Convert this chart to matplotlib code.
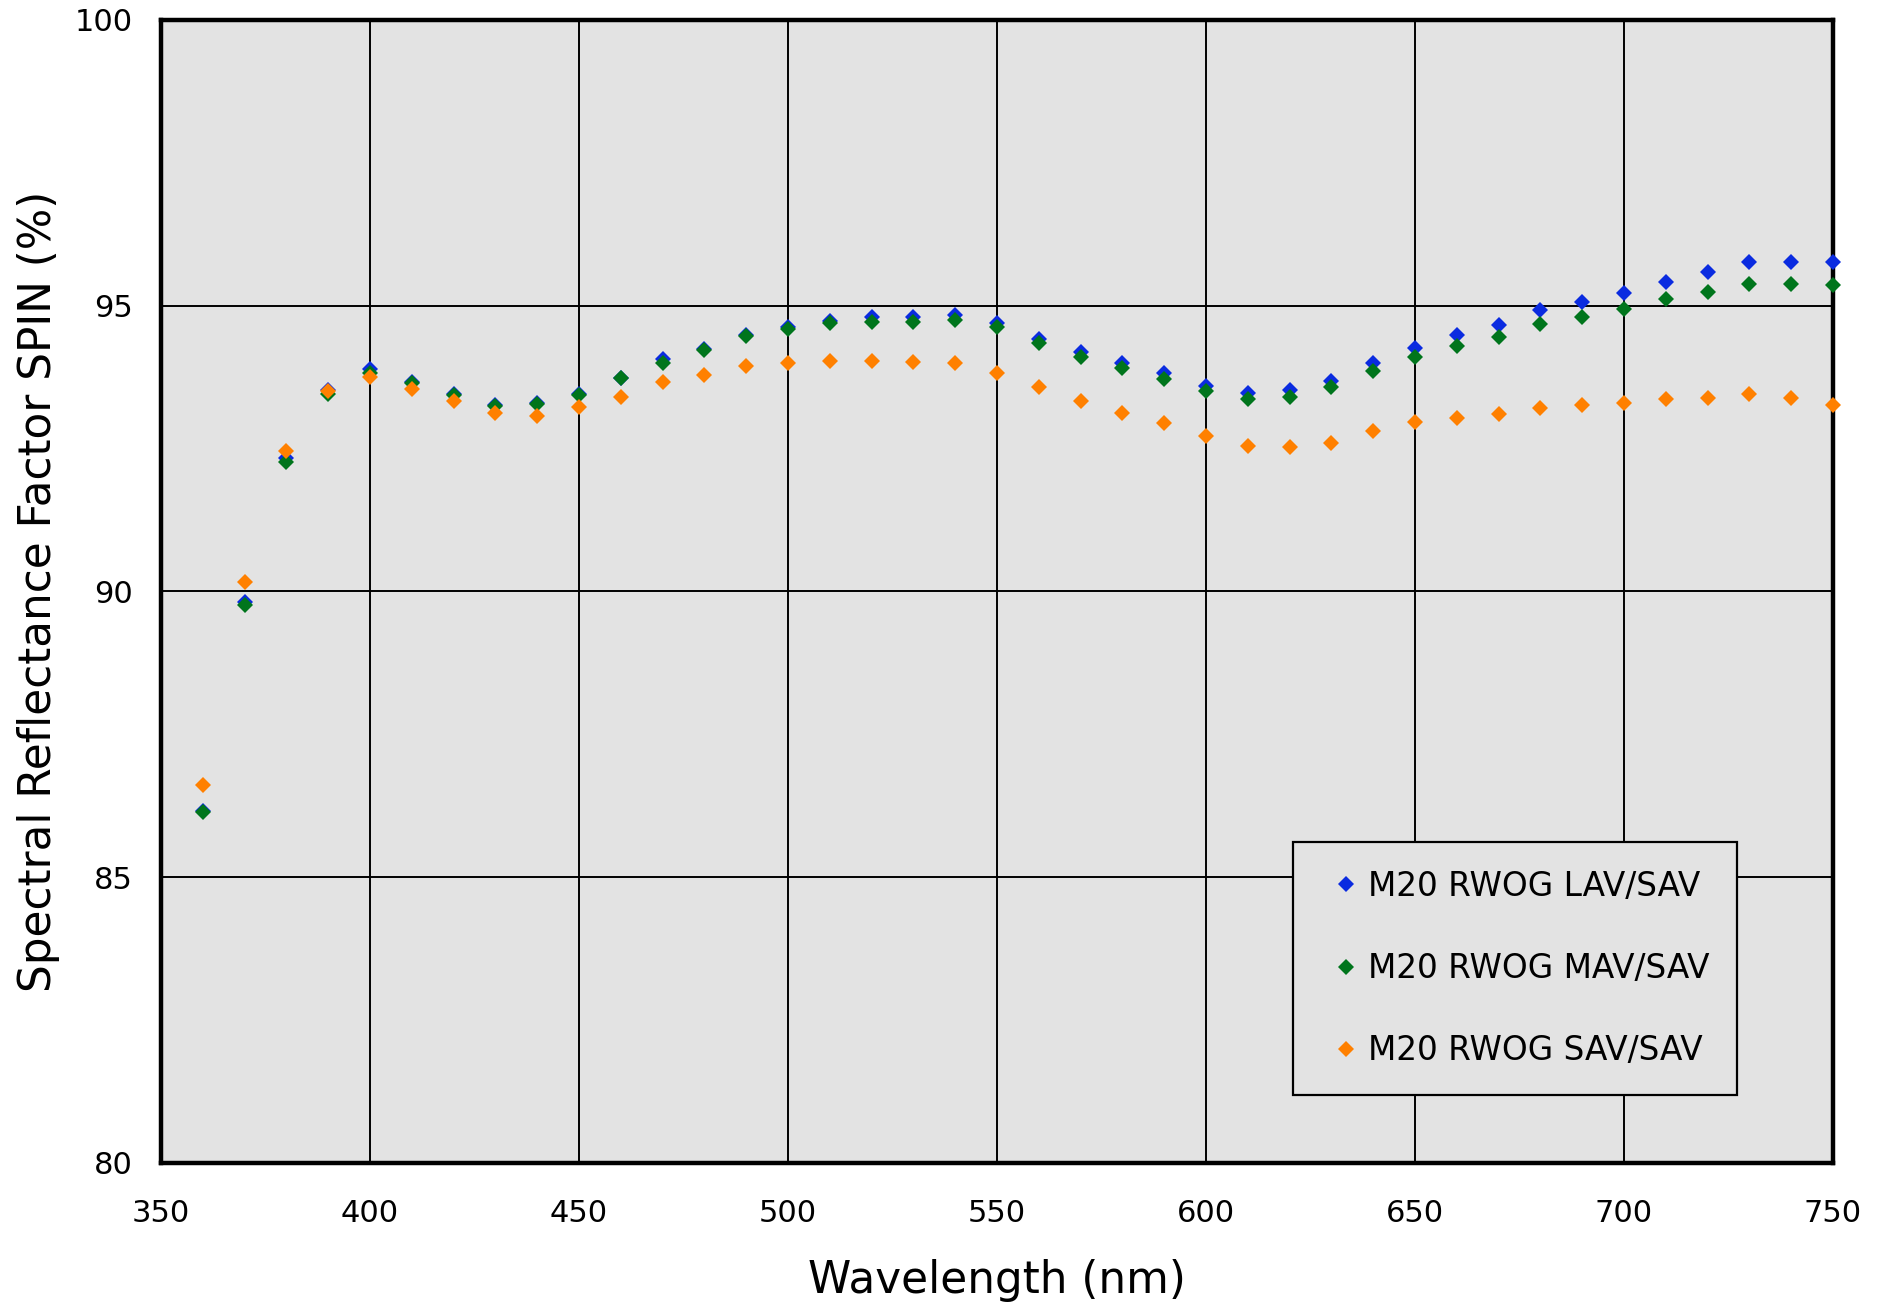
import matplotlib
matplotlib.use("Agg")
import matplotlib.pyplot as plt

wavelength = [360, 370, 380, 390, 400, 410, 420, 430, 440, 450, 460, 470, 480, 490,
              500, 510, 520, 530, 540, 550, 560, 570, 580, 590, 600, 610, 620, 630,
              640, 650, 660, 670, 680, 690, 700, 710, 720, 730, 740, 750]

lav_sav = [86.16, 89.82, 92.33, 93.53, 93.90, 93.67, 93.45, 93.27, 93.29, 93.46,
           93.74, 94.06, 94.25, 94.48, 94.63, 94.73, 94.80, 94.81, 94.84, 94.70,
           94.42, 94.19, 94.00, 93.83, 93.59, 93.47, 93.52, 93.69, 94.00, 94.26,
           94.48, 94.66, 94.92, 95.07, 95.22, 95.42, 95.59, 95.76, 95.76, 95.77]

mav_sav = [86.15, 89.77, 92.27, 93.46, 93.83, 93.64, 93.44, 93.25, 93.28, 93.44,
           93.73, 93.99, 94.22, 94.47, 94.60, 94.69, 94.71, 94.71, 94.75, 94.62,
           94.34, 94.10, 93.91, 93.72, 93.50, 93.36, 93.41, 93.58, 93.85, 94.10,
           94.30, 94.46, 94.68, 94.81, 94.95, 95.12, 95.24, 95.38, 95.38, 95.36]

sav_sav = [86.61, 90.16, 92.45, 93.51, 93.75, 93.55, 93.33, 93.13, 93.07, 93.22,
           93.40, 93.67, 93.78, 93.94, 94.00, 94.03, 94.04, 94.02, 94.00, 93.83,
           93.57, 93.34, 93.13, 92.95, 92.72, 92.54, 92.53, 92.60, 92.80, 92.96,
           93.04, 93.11, 93.21, 93.27, 93.29, 93.37, 93.39, 93.45, 93.39, 93.26]

labels = ["M20 RWOG LAV/SAV", "M20 RWOG MAV/SAV", "M20 RWOG SAV/SAV"]
colors = ["#0a2be0", "#00751c", "#ff8000"]

xticks = [350, 400, 450, 500, 550, 600, 650, 700, 750]
yticks = [80, 85, 90, 95, 100]

plt.rcParams['font.family'] = ['DejaVu Sans']

fig = plt.figure(figsize=(18.88, 13.06), dpi=100)
ax = fig.add_axes([161/1888, 1 - 1163/1306, (1833-161)/1888, (1163-20)/1306])
ax.set_facecolor("#e3e3e3")

for ys, lab, c in zip([lav_sav, mav_sav, sav_sav], labels, colors):
    ax.plot(wavelength, ys, linestyle='none', marker='D', markersize=8.2,
            color=c, markeredgewidth=0, label=lab, clip_on=False, zorder=5)

ax.set_xlim(350, 750)
ax.set_ylim(80, 100)
ax.set_xticks(xticks)
ax.set_yticks(yticks)
ax.grid(True, color='black', linewidth=1.4, zorder=1)
ax.set_axisbelow(True)
ax.tick_params(length=0, labelsize=22)
ax.tick_params(axis='x', pad=26)
ax.tick_params(axis='y', pad=20)
for s in ax.spines.values():
    s.set_linewidth(3.2)
    s.set_zorder(4)

ax.set_xlabel("Wavelength (nm)", fontsize=31.5, labelpad=22)
ax.set_ylabel("Spectral Reflectance Factor SPIN (%)", fontsize=31.5, labelpad=11)

leg = ax.legend(loc='upper left', bbox_to_anchor=(1293/1888, 1 - 842/1306),
                bbox_transform=fig.transFigure, fontsize=23.6, frameon=True,
                fancybox=False, framealpha=1, facecolor="#e3e3e3", edgecolor='black',
                borderaxespad=0, handlelength=1.53, handletextpad=-0.1,
                labelspacing=1.5, borderpad=0.85, markerscale=1.0)
leg.get_frame().set_linewidth(1.6)
leg.set_zorder(6)

fig.savefig("out.png", dpi=100)
